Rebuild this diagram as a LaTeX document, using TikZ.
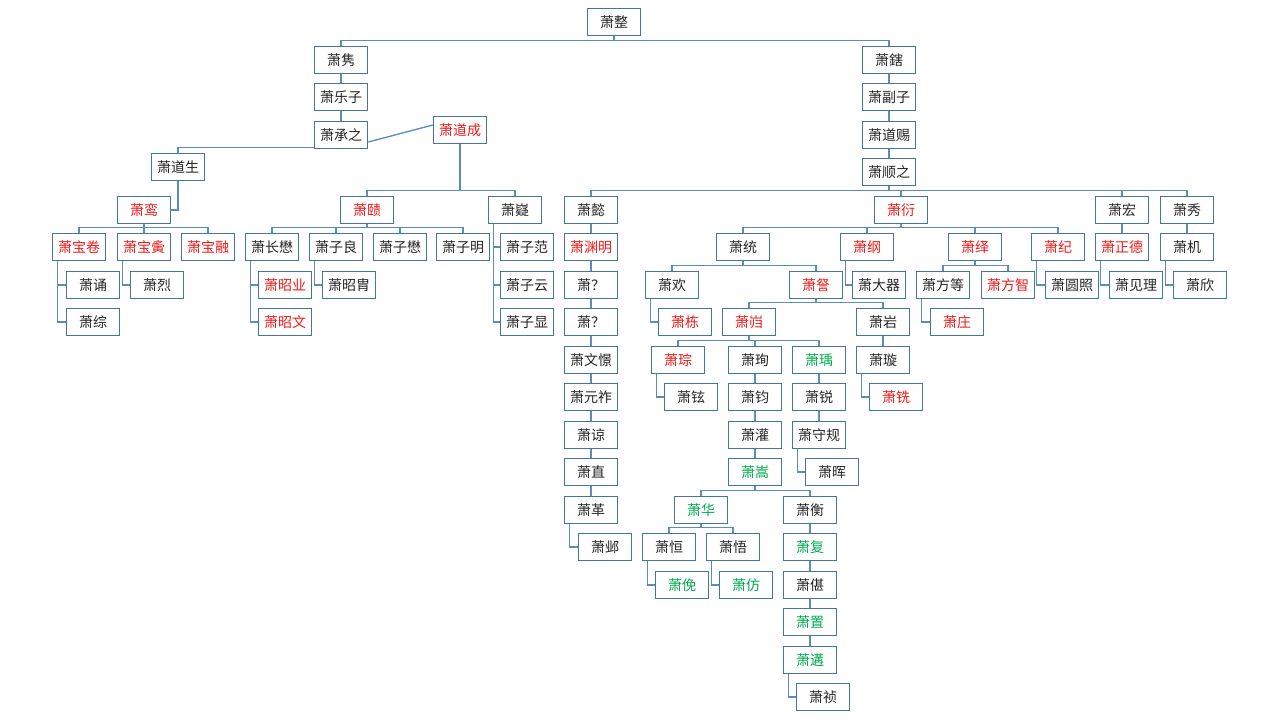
\documentclass[tikz,border=0pt]{standalone}
\usepackage{fontspec}
\usetikzlibrary{backgrounds}
\newfontfamily\cjk{Noto Sans CJK SC}
\definecolor{boxc}{RGB}{70,115,160}
\definecolor{linec}{RGB}{90,140,190}
\definecolor{redt}{RGB}{240,25,25}
\definecolor{greent}{RGB}{0,170,80}
\tikzset{
  pbox/.style={draw=boxc,line width=1.5pt,fill=white,minimum width=53pt,minimum height=27pt,inner sep=0pt,font=\cjk\fontsize{14}{16}\selectfont,text=black!85},
  rb/.style={pbox,text=redt},
  gb/.style={pbox,text=greent},
  conn/.style={draw=linec,line width=1.3pt}
}
\begin{document}
\begin{tikzpicture}[x=1pt,y=-1pt]
\useasboundingbox (0,0) rectangle (1280,720);
% rows
\def\ra{22}\def\rb{60}\def\rc{97}\def\rd{135}\def\re{172}\def\rf{210}
\def\rg{247}\def\rh{285}\def\ri{322}\def\rj{360}\def\rk{397}\def\rl{435}
\def\rm{472}\def\rn{510}\def\ro{547}\def\rp{585}\def\rq{622}\def\rr{660}\def\rs{697}
% left branch
\node[pbox] (zheng) at (614,\ra) {萧整};
\node[pbox] (jun) at (341,\rb) {萧隽};
\node[pbox] (xia) at (889,\rb) {萧鎋};
\node[pbox] (lezi) at (341,\rc) {萧乐子};
\node[pbox] (chengzhi) at (341,\rd) {萧承之};
\node[rb] (daocheng) at (460,130) {萧道成};
\node[pbox] (daosheng) at (178,167) {萧道生};
\node[rb] (luan) at (144,\rf) {萧鸾};
\node[rb] (baojuan) at (79,\rg) {萧宝卷};
\node[rb] (baoyin) at (144,\rg) {萧宝夤};
\node[rb] (baorong) at (208,\rg) {萧宝融};
\node[pbox] (song) at (93,\rh) {萧诵};
\node[pbox] (zong) at (93,\ri) {萧综};
\node[pbox] (lie) at (157,\rh) {萧烈};
\node[rb] (ze) at (367,\rf) {萧赜};
\node[pbox] (yi) at (515,\rf) {萧嶷};
\node[pbox] (changmao) at (272,\rg) {萧长懋};
\node[pbox] (ziliang) at (336,\rg) {萧子良};
\node[pbox] (zimao) at (400,\rg) {萧子懋};
\node[pbox] (ziming) at (463,\rg) {萧子明};
\node[rb] (zhaoye) at (285,\rh) {萧昭业};
\node[rb] (zhaowen) at (285,\ri) {萧昭文};
\node[pbox] (zhaozhou) at (349,\rh) {萧昭胄};
\node[pbox] (zifan) at (527,\rg) {萧子范};
\node[pbox] (ziyun) at (527,\rh) {萧子云};
\node[pbox] (zixian) at (527,\ri) {萧子显};
% right branch
\node[pbox] (fuzi) at (889,\rc) {萧副子};
\node[pbox] (daoci) at (889,\rd) {萧道赐};
\node[pbox] (shunzhi) at (889,\re) {萧顺之};
\node[pbox] (yii) at (591,\rf) {萧懿};
\node[rb] (yan) at (901,\rf) {萧衍};
\node[pbox] (hong) at (1122,\rf) {萧宏};
\node[pbox] (xiu) at (1187,\rf) {萧秀};
\node[rb] (yuanming) at (591,\rg) {萧渊明};
\node[pbox] (qa) at (591,\rh) {萧？};
\node[pbox] (qb) at (591,\ri) {萧？};
\node[pbox] (wenjing) at (591,\rj) {萧文憬};
\node[pbox] (yuanzuo) at (591,\rk) {萧元祚};
\node[pbox] (liang) at (591,\rl) {萧谅};
\node[pbox] (zhi) at (591,\rm) {萧直};
\node[pbox] (ge) at (591,\rn) {萧革};
\node[pbox] (ye) at (605,\ro) {萧邺};
\node[pbox] (tong) at (743,\rg) {萧统};
\node[rb] (gang) at (867,\rg) {萧纲};
\node[rb] (yiii) at (975,\rg) {萧绎};
\node[rb] (ji) at (1058,\rg) {萧纪};
\node[rb] (zhengde) at (1122,\rg) {萧正德};
\node[pbox] (jiji) at (1187,\rg) {萧机};
\node[pbox] (huan) at (672,\rh) {萧欢};
\node[rb] (cha) at (816,\rh) {萧詧};
\node[pbox] (daqi) at (879,\rh) {萧大器};
\node[pbox] (fangdeng) at (943,\rh) {萧方等};
\node[rb] (fangzhi) at (1008,\rh) {萧方智};
\node[pbox] (yuanzhao) at (1072,\rh) {萧圆照};
\node[pbox] (jianli) at (1136,\rh) {萧见理};
\node[pbox] (xin) at (1200,\rh) {萧欣};
\node[rb] (dong) at (685,\ri) {萧栋};
\node[rb] (kui) at (749,\ri) {萧岿};
\node[pbox] (yanb) at (883,\ri) {萧岩};
\node[rb] (zhuang) at (957,\ri) {萧庄};
\node[rb] (cong) at (678,\rj) {萧琮};
\node[pbox] (xun) at (755,\rj) {萧珣};
\node[gb] (yu) at (819,\rj) {萧瑀};
\node[pbox] (xuan) at (883,\rj) {萧璇};
\node[pbox] (xuanb) at (691,\rk) {萧铉};
\node[pbox] (junb) at (755,\rk) {萧钧};
\node[pbox] (rui) at (819,\rk) {萧锐};
\node[rb] (xian) at (896,\rk) {萧铣};
\node[pbox] (guan) at (755,\rl) {萧灌};
\node[pbox] (shougui) at (819,\rl) {萧守规};
\node[pbox] (hui) at (832,\rm) {萧晖};
\node[gb] (songb) at (755,\rm) {萧嵩};
\node[gb] (hua) at (701,\rn) {萧华};
\node[pbox] (heng) at (810,\rn) {萧衡};
\node[pbox] (hengb) at (669,\ro) {萧恒};
\node[pbox] (wu) at (733,\ro) {萧悟};
\node[gb] (fu) at (810,\ro) {萧复};
\node[gb] (mian) at (682,\rp) {萧俛};
\node[gb] (fang) at (746,\rp) {萧仿};
\node[pbox] (zhan) at (810,\rp) {萧偡};
\node[gb] (zhib) at (810,\rq) {萧置};
\node[gb] (gou) at (810,\rr) {萧遘};
\node[pbox] (zhen) at (823,\rs) {萧祯};
\begin{scope}[on background layer]
\fill[white] (0,0) rectangle (1280,720);
% bus connectors
\foreach \p/\cs in {zheng/{jun,xia}, luan/{baojuan,baoyin,baorong}, daocheng/{ze,yi},
  ze/{changmao,ziliang,zimao,ziming}, shunzhi/{yii,yan,hong,xiu}, yan/{tong,gang,yiii,ji},
  tong/{huan,cha}, cha/{kui,yanb}, kui/{cong,xun,yu}, yiii/{fangdeng,fangzhi},
  songb/{hua,heng}, hua/{hengb,wu}, chengzhi/{daosheng}}
  \foreach \c in \cs
    \draw[conn] (\p.south) |- ([yshift=5pt]\c.north) -- (\c.north);
% straight connectors
\foreach \p/\c in {jun/lezi, lezi/chengzhi, xia/fuzi, fuzi/daoci, daoci/shunzhi,
  yii/yuanming, yuanming/qa, qa/qb, qb/wenjing, wenjing/yuanzuo, yuanzuo/liang, liang/zhi, zhi/ge,
  hong/zhengde, xiu/jiji, yanb/xuan, xun/junb, yu/rui, junb/guan, rui/shougui, guan/songb,
  heng/fu, fu/zhan, zhan/zhib, zhib/gou}
  \draw[conn] (\p.south) -- (\c.north);
% side connectors
\foreach \p/\c in {baojuan/song, baojuan/zong, baoyin/lie, changmao/zhaoye, changmao/zhaowen,
  ziliang/zhaozhou, yi/zifan, yi/ziyun, yi/zixian, ge/ye, gang/daqi, huan/dong, cong/xuanb,
  xuan/xian, shougui/hui, hengb/mian, wu/fang, gou/zhen, fangdeng/zhuang, ji/yuanzhao,
  zhengde/jianli, jiji/xin}
  \draw[conn] ([xshift=6pt]\p.south west) |- (\c.west);
\draw[conn] (daosheng.south) |- (luan.east);
\draw[conn] ([yshift=-7pt]chengzhi.east) -- ([yshift=5pt]daocheng.west);
\end{scope}
\end{tikzpicture}
\end{document}
